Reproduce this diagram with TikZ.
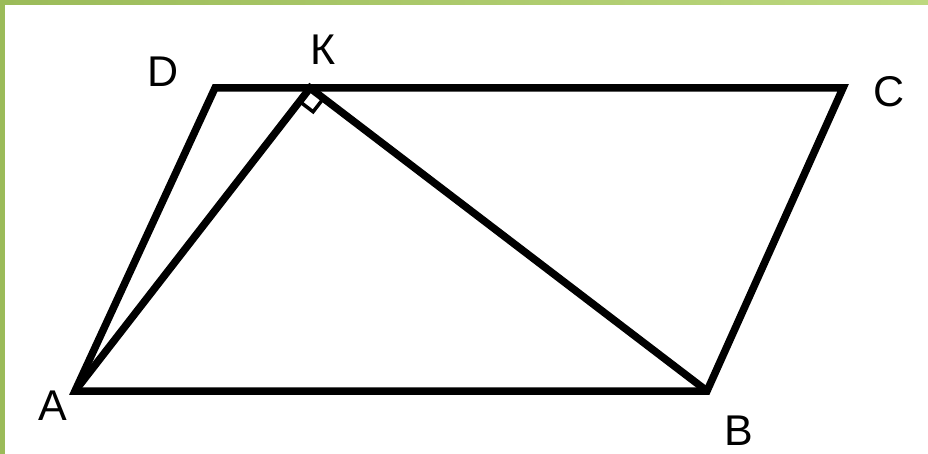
\documentclass[tikz,border=0pt]{standalone}
\usepackage{fontspec}
\setmainfont{Liberation Sans}
\usetikzlibrary{calc}
\definecolor{borderdark}{HTML}{9BBB59}
\definecolor{borderlight}{HTML}{BDD87F}
\tikzset{
  lado/.style={line width=7.5pt, line join=miter},
  letra/.style={inner sep=0pt, font=\fontsize{43}{50}\selectfont}
}

\begin{document}
\begin{tikzpicture}[x=1pt, y=-1pt]

\useasboundingbox (0,0) rectangle (928,454);
\fill[white] (0,0) rectangle (928,454);
\shade[left color=borderdark, right color=borderlight] (0,0) rectangle (928,5); % borde
\fill[borderdark] (0,0) rectangle (5,454);

\coordinate (A) at (75,391);
\coordinate (B) at (707,391);
\coordinate (C) at (843,88);
\coordinate (D) at (215,88);
\coordinate (K) at (310,88);

\draw[lado] (A) -- (B) -- (C) -- (D) -- cycle; % Paralelogramo
\draw[lado] (A) -- (K) -- (B);

% angulo recto en K
\coordinate (KA) at ($(K)!17pt!(A)$);
\coordinate (KB) at ($(K)!17pt!(B)$);
\coordinate (KR) at ($(KA)+(KB)-(K)$);
\draw[line width=3.5pt] (KA) -- (KR) -- (KB);

\node[letra] (lA) at (53,406) {A};
\node[letra] (lB) at (739,431) {B};
\node[letra] (lC) at (889,92) {C};
\node[letra] (lD) at (163,72) {D};
\node[letra] (lK) at (323,50) {К};

\end{tikzpicture}
\end{document}
